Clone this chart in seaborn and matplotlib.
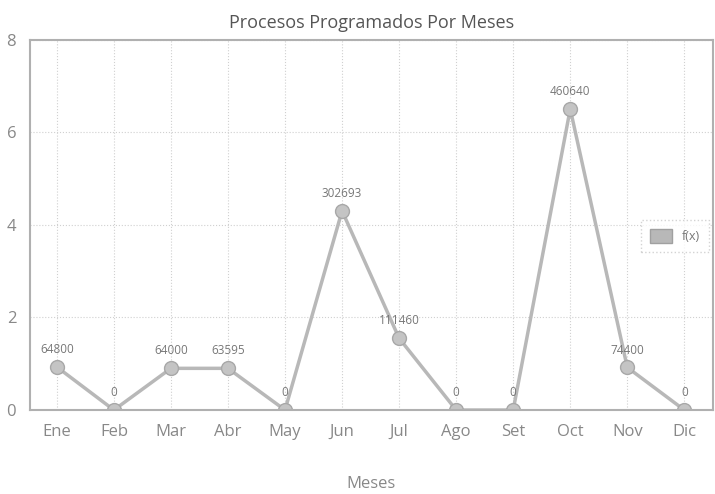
import pandas as pd
import matplotlib.pyplot as plt
import seaborn as sns
from matplotlib.patches import Patch

# Data
meses = ["Ene", "Feb", "Mar", "Abr", "May", "Jun", "Jul", "Ago", "Set", "Oct", "Nov", "Dic"]
valores_y = [0.93, 0, 0.9, 0.9, 0, 4.3, 1.55, 0, 0, 6.5, 0.92, 0]
etiquetas = ["64800", "0", "64000", "63595", "0", "302693", "111460", "0", "0", "460640", "74400", "0"]
y_ticks = [0, 2, 4, 6, 8]

df = pd.DataFrame({"mes": range(len(meses)), "valor": valores_y})

sns.set_style("white")
plt.rcParams['font.family'] = ['Open Sans', 'DejaVu Sans']

fig = plt.figure(figsize=(7.15, 4.94), dpi=100)
ax = fig.add_axes([0.042, 0.17, 0.955, 0.75])

sns.lineplot(data=df, x="mes", y="valor", ax=ax, color="#b8b8b8", linewidth=2.5,
             marker="o", markersize=10, markerfacecolor="#c4c4c4",
             markeredgecolor="#a8a8a8", markeredgewidth=1)

# Data labels
for i, (v, t) in enumerate(zip(valores_y, etiquetas)):
    ax.annotate(t, (i, v), textcoords="offset points", xytext=(0, 10),
                ha="center", fontsize=8.5, color="#777777")

ax.set_xlim(-0.47, 11.5)
ax.set_ylim(0, 8)
ax.set_xticks(range(len(meses)))
ax.set_xticklabels(meses)
ax.set_yticks(y_ticks)
ax.tick_params(axis="both", labelsize=12, colors="#888888", length=0, pad=10)

ax.grid(True, linestyle=":", color="#d0d0d0", linewidth=0.8)
for side in ["left", "bottom", "top", "right"]:
    ax.spines[side].set_color("#b0b0b0")
    ax.spines[side].set_linewidth(1.5)

ax.set_title("Procesos Programados Por Meses", fontsize=13, color="#555555", pad=8)
ax.set_xlabel("Meses", fontsize=12, color="#888888", labelpad=26)
ax.set_ylabel("")

leg = ax.legend(handles=[Patch(facecolor="#b8b8b8", edgecolor="#a0a0a0", label="f(x)")],
                loc="center right", bbox_to_anchor=(0.998, 0.47), fontsize=9,
                frameon=True, handlelength=1.8, handleheight=1.4, labelcolor="#777777")
leg.get_frame().set_edgecolor("#c8c8c8")
leg.get_frame().set_linestyle(":")
leg.get_frame().set_boxstyle("square")

fig.savefig("out.png", dpi=100)
